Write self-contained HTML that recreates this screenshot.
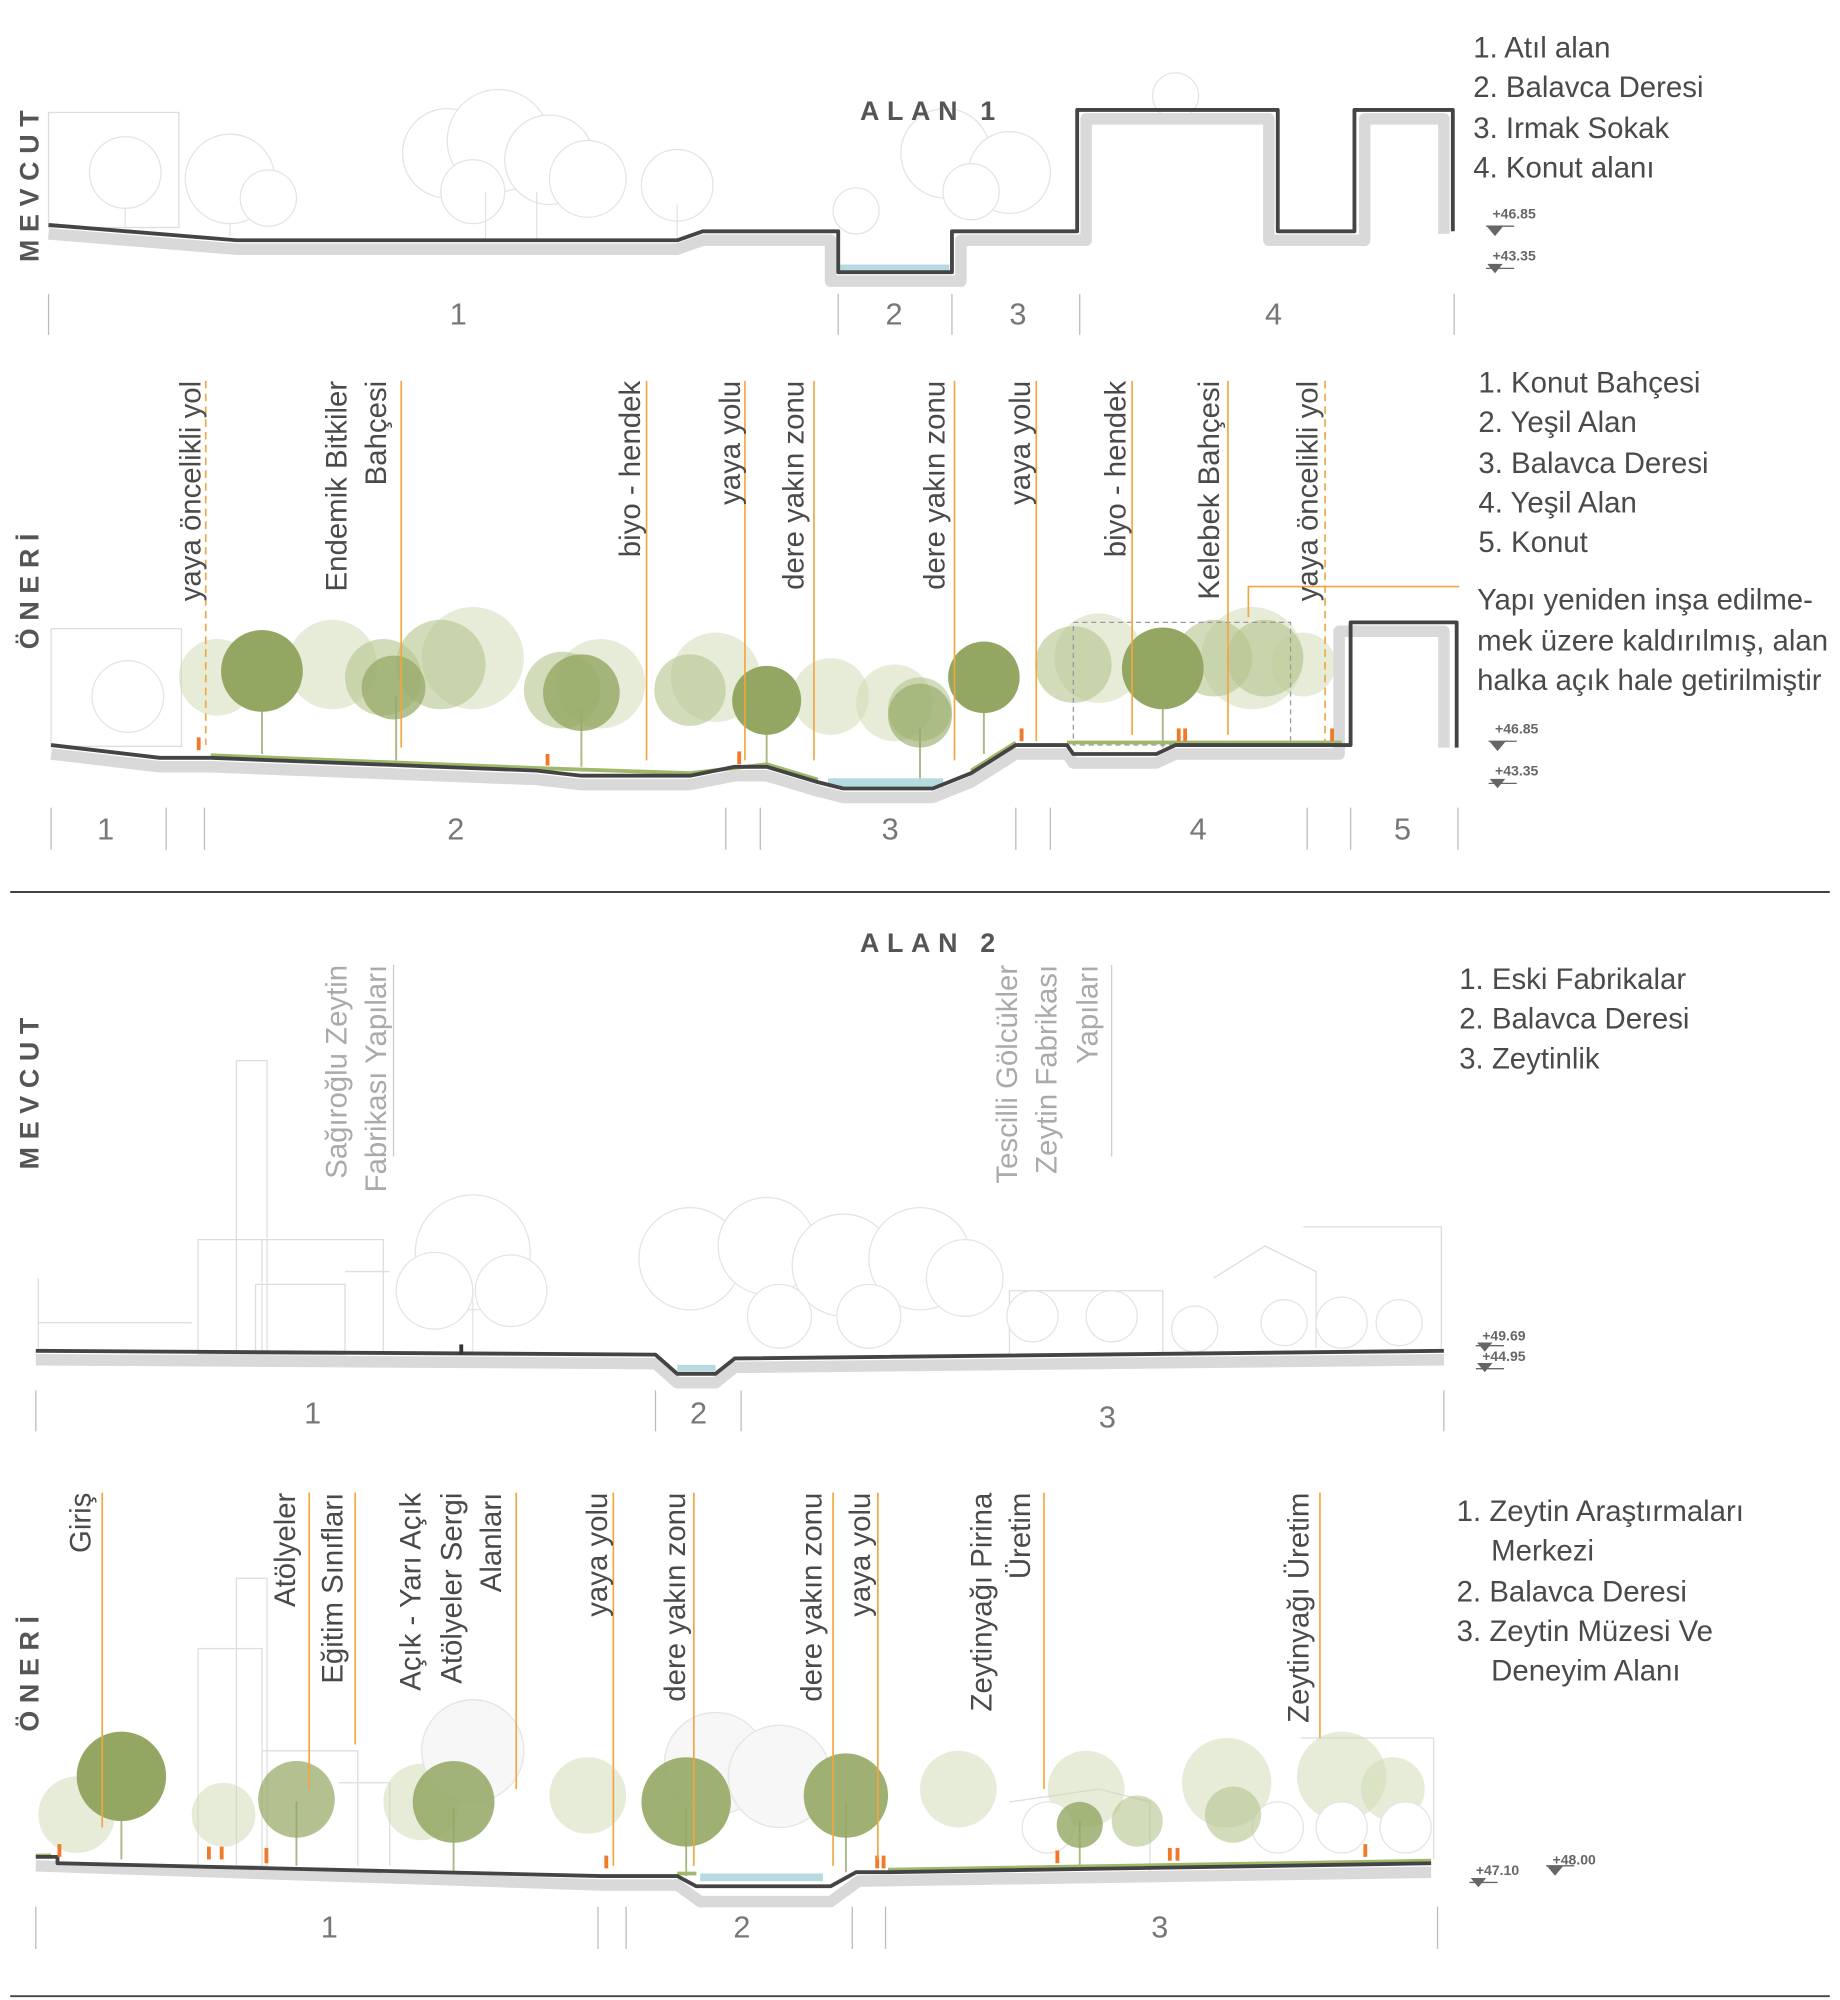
<!DOCTYPE html>
<html><head><meta charset="utf-8"><style>
html,body{margin:0;padding:0;background:#fff;}
svg{display:block;}
text{font-family:"Liberation Sans",sans-serif;}
.lg{font-size:23px;fill:#4a4a4a;}
.lb{font-size:23px;fill:#4a4a4a;}
.gl{font-size:23px;fill:#aaa;}
.nm{font-size:24px;fill:#777;}
.el{font-size:11px;fill:#666;font-weight:bold;}
.sec{font-size:21px;fill:#555;letter-spacing:6px;font-weight:bold;}
.ol{stroke:#f2a640;stroke-width:1.3;fill:none;}
.dv{stroke:#bbb;stroke-width:1;}
.gr{stroke:#d9d9d9;stroke-width:9;fill:none;stroke-linejoin:round;}
.gd{stroke:#444;stroke-width:3;fill:none;stroke-linejoin:round;}
.tg{fill:#fff;stroke:#e4e4e4;stroke-width:1;}
.tk{stroke:#e4e4e4;stroke-width:1;}
.g1{fill:#93a763;}
.g2{fill:#b4c48e;opacity:.6;}
.g3{fill:#cfdab2;opacity:.5;}
.gt{stroke:#a9b987;stroke-width:1.5;}
.bd{fill:none;stroke:#ddd;stroke-width:1;}
</style></head><body>
<svg width="1840" height="2000" viewBox="0 0 1440 1565" preserveAspectRatio="none" xmlns="http://www.w3.org/2000/svg">
<!-- ================= SECTION 1 MEVCUT ================= -->
<text class="sec" transform="translate(30,205) rotate(-90)">MEVCUT</text>
<rect x="38" y="88" width="102" height="90" class="bd"/>
<g>
<line class="tk" x1="98" y1="120" x2="98" y2="178"/><circle class="tg" cx="98" cy="135" r="28"/>
<line class="tk" x1="180" y1="120" x2="180" y2="185"/><circle class="tg" cx="180" cy="140" r="35"/>
<circle class="tg" cx="210" cy="155" r="22"/>
<circle class="tg" cx="350" cy="120" r="35"/><circle class="tg" cx="390" cy="110" r="40"/><circle class="tg" cx="430" cy="125" r="35"/>
<circle class="tg" cx="460" cy="140" r="30"/><circle class="tg" cx="370" cy="150" r="25"/>
<line class="tk" x1="380" y1="150" x2="380" y2="188"/><line class="tk" x1="420" y1="150" x2="420" y2="188"/>
<circle class="tg" cx="530" cy="145" r="28"/><line class="tk" x1="530" y1="160" x2="530" y2="188"/>
<circle class="tg" cx="670" cy="165" r="18"/>
<circle class="tg" cx="740" cy="120" r="35"/><circle class="tg" cx="790" cy="135" r="32"/><circle class="tg" cx="760" cy="150" r="22"/>
<circle class="tg" cx="920" cy="75" r="18"/>
</g>
<text class="sec" x="673" y="94">ALAN 1</text>
<rect x="657" y="207" width="86" height="6" fill="#b5dbe0"/>
<path class="gr" d="M38,183 L185,195 L530,195 L550,188 L650,188 L650,220 L752,220 L752,188 L850,188 L850,93 L993,93 L993,188 L1068,188 L1068,93 L1130,93 L1130,183"/>
<path class="gd" d="M38,176 L185,188 L530,188 L550,181 L656,181 L656,213 L745,213 L745,181 L843,181 L843,86 L1000,86 L1000,181 L1060,181 L1060,86 L1137,86 L1137,181"/>
<g class="dv"><line x1="38" y1="230" x2="38" y2="262"/><line x1="656" y1="230" x2="656" y2="262"/><line x1="745" y1="230" x2="745" y2="262"/><line x1="845" y1="230" x2="845" y2="262"/><line x1="1138" y1="230" x2="1138" y2="262"/></g>
<text class="nm" x="352" y="254">1</text><text class="nm" x="693" y="254">2</text><text class="nm" x="790" y="254">3</text><text class="nm" x="990" y="254">4</text>
<text class="lg" x="1153" y="45">1. Atıl alan</text>
<text class="lg" x="1153" y="76">2. Balavca Deresi</text>
<text class="lg" x="1153" y="108">3. Irmak Sokak</text>
<text class="lg" x="1153" y="139">4. Konut alanı</text>
<text class="el" x="1168" y="171">+46.85</text><path d="M1163,177 h22 M1165,178 l5,6 l5,-6z" stroke="#666" fill="#666" stroke-width="1"/>
<text class="el" x="1168" y="204">+43.35</text><path d="M1163,210 h22 M1165,207 l5,6 l5,-6z" stroke="#666" fill="#666" stroke-width="1"/>

<!-- ================= SECTION 2 ONERI ================= -->
<text class="sec" transform="translate(30,508) rotate(-90)">ÖNERİ</text>
<rect x="40" y="492" width="102" height="92" class="bd"/>
<circle class="tg" cx="100" cy="545" r="28"/>
<g>
<circle class="g3" cx="170" cy="530" r="30"/><circle class="g3" cx="260" cy="520" r="35"/><circle class="g3" cx="370" cy="515" r="40"/>
<circle class="g3" cx="470" cy="535" r="35"/><circle class="g3" cx="560" cy="530" r="35"/><circle class="g3" cx="650" cy="545" r="30"/>
<circle class="g3" cx="700" cy="550" r="30"/><circle class="g3" cx="860" cy="515" r="35"/><circle class="g3" cx="980" cy="515" r="40"/>
<circle class="g3" cx="1020" cy="520" r="25"/>
<circle class="g2" cx="300" cy="530" r="30"/><circle class="g2" cx="345" cy="520" r="35"/><circle class="g2" cx="440" cy="540" r="30"/>
<circle class="g2" cx="540" cy="540" r="28"/><circle class="g2" cx="720" cy="555" r="25"/><circle class="g2" cx="840" cy="520" r="30"/>
<circle class="g2" cx="950" cy="515" r="30"/><circle class="g2" cx="990" cy="515" r="30"/>
<line class="gt" x1="205" y1="540" x2="205" y2="590"/><circle class="g1" cx="205" cy="525" r="32"/>
<line class="gt" x1="310" y1="545" x2="310" y2="595"/><circle class="g1" cx="308" cy="538" r="25" opacity=".7"/>
<line class="gt" x1="455" y1="555" x2="455" y2="600"/><circle class="g1" cx="455" cy="542" r="30" opacity=".8"/>
<line class="gt" x1="600" y1="560" x2="600" y2="600"/><circle class="g1" cx="600" cy="548" r="27"/>
<line class="gt" x1="720" y1="570" x2="720" y2="610"/><circle class="g1" cx="720" cy="560" r="25" opacity=".6"/>
<line class="gt" x1="770" y1="545" x2="770" y2="590"/><circle class="g1" cx="770" cy="530" r="28"/>
<line class="gt" x1="910" y1="535" x2="910" y2="585"/><circle class="g1" cx="910" cy="523" r="32"/>
</g>
<rect x="840" y="487" width="170" height="96" fill="none" stroke="#999" stroke-dasharray="4,3"/>
<rect x="648" y="609" width="90" height="7" fill="#b5dbe0"/>
<path class="gr" d="M40,590 L125,600 L165,600 L420,610 L455,614 L540,614 L575,607 L600,607 L640,619 L660,624 L730,624 L760,612 L795,590 L835,590 L840,597 L905,597 L920,590 L1048,590 L1048,494 L1130,494 L1130,585"/>
<path d="M165,591 L420,601 L540,605 L600,598 L640,610 M760,603 L795,581 M835,581 L1050,581" stroke="#9fb86a" stroke-width="3" fill="none"/>
<path class="gd" d="M40,583 L125,593 L165,593 L420,603 L455,607 L540,607 L575,600 L600,600 L640,612 L660,617 L730,617 L760,605 L795,583 L835,583 L840,590 L905,590 L920,583 L1057,583 L1057,487 L1140,487 L1140,585"/>
<g fill="#f07a2a"><rect x="154" y="577" width="3" height="10"/><rect x="577" y="588" width="3" height="10"/><rect x="798" y="570" width="3" height="10"/><rect x="921" y="570" width="3" height="10"/><rect x="926" y="570" width="3" height="10"/><rect x="1041" y="570" width="3" height="10"/><rect x="427" y="590" width="3" height="9"/></g>
<g class="ol">
<line x1="161" y1="298" x2="161" y2="583" stroke-dasharray="6,4"/>
<line x1="314" y1="298" x2="314" y2="585"/>
<line x1="506" y1="298" x2="506" y2="595"/>
<line x1="583" y1="298" x2="583" y2="595"/>
<line x1="637" y1="298" x2="637" y2="595"/>
<line x1="747" y1="298" x2="747" y2="595"/>
<line x1="811" y1="298" x2="811" y2="580"/>
<line x1="886" y1="298" x2="886" y2="575"/>
<line x1="961" y1="298" x2="961" y2="575"/>
<line x1="1037" y1="298" x2="1037" y2="580" stroke-dasharray="6,4"/>
<polyline points="977,483 977,459 1142,459"/>
</g>
<g class="lb" text-anchor="end">
<text transform="translate(157,298) rotate(-90)">yaya öncelikli yol</text>
<text transform="translate(271,298) rotate(-90)">Endemik Bitkiler</text>
<text transform="translate(302,298) rotate(-90)">Bahçesi</text>
<text transform="translate(501,298) rotate(-90)">biyo - hendek</text>
<text transform="translate(579,298) rotate(-90)">yaya yolu</text>
<text transform="translate(629,298) rotate(-90)">dere yakın zonu</text>
<text transform="translate(739,298) rotate(-90)">dere yakın zonu</text>
<text transform="translate(806,298) rotate(-90)">yaya yolu</text>
<text transform="translate(881,298) rotate(-90)">biyo - hendek</text>
<text transform="translate(954,298) rotate(-90)">Kelebek Bahçesi</text>
<text transform="translate(1031,298) rotate(-90)">yaya öncelikli yol</text>
</g>
<g class="dv"><line x1="40" y1="632" x2="40" y2="665"/><line x1="130" y1="632" x2="130" y2="665"/><line x1="160" y1="632" x2="160" y2="665"/><line x1="568" y1="632" x2="568" y2="665"/><line x1="595" y1="632" x2="595" y2="665"/><line x1="795" y1="632" x2="795" y2="665"/><line x1="822" y1="632" x2="822" y2="665"/><line x1="1023" y1="632" x2="1023" y2="665"/><line x1="1057" y1="632" x2="1057" y2="665"/><line x1="1141" y1="632" x2="1141" y2="665"/></g>
<text class="nm" x="76" y="657">1</text><text class="nm" x="350" y="657">2</text><text class="nm" x="690" y="657">3</text><text class="nm" x="931" y="657">4</text><text class="nm" x="1091" y="657">5</text>
<text class="lg" x="1157" y="307">1. Konut Bahçesi</text>
<text class="lg" x="1157" y="338">2. Yeşil Alan</text>
<text class="lg" x="1157" y="370">3. Balavca Deresi</text>
<text class="lg" x="1157" y="401">4. Yeşil Alan</text>
<text class="lg" x="1157" y="432">5. Konut</text>
<text class="lg" x="1156" y="477">Yapı yeniden inşa edilme-</text>
<text class="lg" x="1156" y="509">mek üzere kaldırılmış, alan</text>
<text class="lg" x="1156" y="540">halka açık hale getirilmiştir</text>
<text class="el" x="1170" y="574">+46.85</text><path d="M1165,580 h22 M1167,581 l5,6 l5,-6z" stroke="#666" fill="#666" stroke-width="1"/>
<text class="el" x="1170" y="607">+43.35</text><path d="M1165,613 h22 M1167,610 l5,6 l5,-6z" stroke="#666" fill="#666" stroke-width="1"/>
<line x1="8" y1="698" x2="1432" y2="698" stroke="#444" stroke-width="1.5"/>

<!-- ================= SECTION 3 MEVCUT ================= -->
<text class="sec" transform="translate(30,915) rotate(-90)">MEVCUT</text>
<g class="bd">
<rect x="185" y="830" width="24" height="230"/><rect x="155" y="970" width="50" height="90"/><rect x="200" y="1005" width="70" height="55"/><path d="M205,970 L300,970 L300,1060 M270,995 L305,995"/>
<path d="M30,1035 L150,1035 M30,1000 L30,1055"/>
<rect x="790" y="1010" width="120" height="50"/><path d="M950,1000 L990,975 L1030,995 L1030,1055 M1020,960 L1128,960 L1128,1055"/>
</g>
<g>
<circle class="tg" cx="370" cy="980" r="45"/><circle class="tg" cx="340" cy="1010" r="30"/><circle class="tg" cx="400" cy="1010" r="28"/>
<line class="tk" x1="370" y1="1010" x2="370" y2="1058"/>
<circle class="tg" cx="540" cy="985" r="40"/><circle class="tg" cx="600" cy="975" r="38"/><circle class="tg" cx="660" cy="990" r="40"/>
<circle class="tg" cx="720" cy="985" r="40"/><circle class="tg" cx="755" cy="1000" r="30"/><circle class="tg" cx="610" cy="1030" r="25"/>
<circle class="tg" cx="680" cy="1030" r="25"/>
<circle class="tg" cx="808" cy="1030" r="20"/><circle class="tg" cx="870" cy="1030" r="20"/><circle class="tg" cx="935" cy="1040" r="18"/>
<circle class="tg" cx="1005" cy="1035" r="18"/><circle class="tg" cx="1050" cy="1035" r="20"/><circle class="tg" cx="1095" cy="1035" r="18"/>
</g>
<text class="sec" x="673" y="745">ALAN 2</text>
<rect x="530" y="1068" width="30" height="5" fill="#b5dbe0"/>
<path class="gr" d="M28,1064 L513,1067 L530,1082 L560,1082 L575,1070 L1130,1064"/>
<path class="gd" d="M28,1057 L513,1060 L530,1075 L560,1075 L575,1063 L1130,1057"/>
<line x1="361" y1="1052" x2="361" y2="1060" stroke="#333" stroke-width="3"/>
<line x1="308" y1="755" x2="308" y2="905" stroke="#ccc"/><line x1="870" y1="755" x2="870" y2="905" stroke="#ccc"/>
<g class="gl" text-anchor="end">
<text transform="translate(271,755) rotate(-90)">Sağıroğlu Zeytin</text>
<text transform="translate(302,755) rotate(-90)">Fabrikası Yapıları</text>
<text transform="translate(796,755) rotate(-90)">Tescilli Gölcükler</text>
<text transform="translate(827,755) rotate(-90)">Zeytin Fabrikası</text>
<text transform="translate(859,755) rotate(-90)">Yapıları</text>
</g>
<g class="dv"><line x1="28" y1="1088" x2="28" y2="1120"/><line x1="513" y1="1088" x2="513" y2="1120"/><line x1="580" y1="1088" x2="580" y2="1120"/><line x1="1130" y1="1088" x2="1130" y2="1120"/></g>
<text class="nm" x="238" y="1114">1</text><text class="nm" x="540" y="1114">2</text><text class="nm" x="860" y="1117">3</text>
<text class="lg" x="1142" y="774">1. Eski Fabrikalar</text>
<text class="lg" x="1142" y="805">2. Balavca Deresi</text>
<text class="lg" x="1142" y="836">3. Zeytinlik</text>
<text class="el" x="1160" y="1049">+49.69</text><path d="M1155,1053 h22 M1157,1051 l5,6 l5,-6z" stroke="#666" fill="#666" stroke-width="1"/>
<text class="el" x="1160" y="1065">+44.95</text><path d="M1155,1071 h22 M1157,1067 l5,6 l5,-6z" stroke="#666" fill="#666" stroke-width="1"/>

<!-- ================= SECTION 4 ONERI ================= -->
<text class="sec" transform="translate(30,1355) rotate(-90)">ÖNERİ</text>
<g class="bd">
<rect x="185" y="1235" width="24" height="225"/><rect x="155" y="1290" width="50" height="170"/><path d="M205,1370 L280,1370 L280,1460 M265,1395 L305,1395 L305,1460"/>
<path d="M790,1410 L860,1400 L900,1410 L900,1465 M1018,1360 L1122,1360 L1122,1455"/>
</g>
<g>
<circle class="g3" cx="60" cy="1420" r="30"/><circle class="g3" cx="175" cy="1420" r="25"/><circle class="g3" cx="330" cy="1410" r="30"/>
<circle class="tg" cx="370" cy="1370" r="40" style="fill:#f7f7f7"/><circle class="tg" cx="560" cy="1380" r="40" style="fill:#f7f7f7"/><circle class="tg" cx="610" cy="1390" r="40" style="fill:#f7f7f7"/>
<circle class="g3" cx="460" cy="1405" r="30"/><circle class="g3" cx="750" cy="1400" r="30"/><circle class="g3" cx="850" cy="1400" r="30"/>
<circle class="g3" cx="960" cy="1395" r="35"/><circle class="g3" cx="1050" cy="1390" r="35"/><circle class="g3" cx="1090" cy="1400" r="25"/>
<circle class="tg" cx="820" cy="1430" r="20"/><circle class="tg" cx="1000" cy="1430" r="20"/><circle class="tg" cx="1050" cy="1430" r="20"/><circle class="tg" cx="1100" cy="1430" r="20"/>
<circle class="g2" cx="890" cy="1425" r="20"/><circle class="g2" cx="965" cy="1420" r="22"/>
<line class="gt" x1="95" y1="1400" x2="95" y2="1455"/><circle class="g1" cx="95" cy="1390" r="35"/>
<line class="gt" x1="232" y1="1410" x2="232" y2="1460"/><circle class="g1" cx="232" cy="1408" r="30" opacity=".7"/>
<line class="gt" x1="355" y1="1415" x2="355" y2="1465"/><circle class="g1" cx="355" cy="1410" r="32" opacity=".85"/>
<line class="gt" x1="537" y1="1415" x2="537" y2="1468"/><circle class="g1" cx="537" cy="1410" r="35" opacity=".9"/>
<line class="gt" x1="662" y1="1410" x2="662" y2="1465"/><circle class="g1" cx="662" cy="1405" r="33" opacity=".9"/>
<line class="gt" x1="845" y1="1425" x2="845" y2="1462"/><circle class="g1" cx="845" cy="1428" r="18" opacity=".8"/>
</g>
<rect x="548" y="1466" width="96" height="6" fill="#b5dbe0"/>
<path class="gr" d="M28,1460 L470,1475 L530,1475 L548,1488 L650,1488 L672,1472 L1120,1465"/>
<path d="M28,1452 L40,1452 M530,1466 L545,1466 M695,1463 L1120,1456" stroke="#9fb86a" stroke-width="3" fill="none"/>
<path class="gd" d="M28,1453 L45,1453 L45,1458 L470,1468 L530,1468 L545,1476 L650,1476 L670,1465 L695,1465 L1120,1458"/>
<g fill="#f07a2a"><rect x="45" y="1443" width="3" height="10"/><rect x="162" y="1445" width="3" height="10"/><rect x="172" y="1445" width="3" height="10"/><rect x="207" y="1446" width="3" height="12"/><rect x="473" y="1452" width="3" height="10"/><rect x="685" y="1452" width="3" height="10"/><rect x="690" y="1452" width="3" height="10"/><rect x="826" y="1448" width="3" height="10"/><rect x="914" y="1446" width="3" height="10"/><rect x="920" y="1446" width="3" height="10"/><rect x="1067" y="1443" width="3" height="10"/></g>
<g class="ol">
<line x1="80" y1="1168" x2="80" y2="1430"/>
<line x1="242" y1="1168" x2="242" y2="1400"/>
<line x1="278" y1="1168" x2="278" y2="1365"/>
<line x1="404" y1="1168" x2="404" y2="1400"/>
<line x1="480" y1="1168" x2="480" y2="1460"/>
<line x1="543" y1="1168" x2="543" y2="1460"/>
<line x1="652" y1="1168" x2="652" y2="1460"/>
<line x1="687" y1="1168" x2="687" y2="1455"/>
<line x1="817" y1="1168" x2="817" y2="1400"/>
<line x1="1033" y1="1168" x2="1033" y2="1360"/>
</g>
<g class="lb" text-anchor="end">
<text transform="translate(71,1168) rotate(-90)">Giriş</text>
<text transform="translate(231,1168) rotate(-90)">Atölyeler</text>
<text transform="translate(268,1168) rotate(-90)">Eğitim Sınıfları</text>
<text transform="translate(329,1168) rotate(-90)">Açık - Yarı Açık</text>
<text transform="translate(361,1168) rotate(-90)">Atölyeler Sergi</text>
<text transform="translate(392,1168) rotate(-90)">Alanları</text>
<text transform="translate(475,1168) rotate(-90)">yaya yolu</text>
<text transform="translate(536,1168) rotate(-90)">dere yakın zonu</text>
<text transform="translate(643,1168) rotate(-90)">dere yakın zonu</text>
<text transform="translate(681,1168) rotate(-90)">yaya yolu</text>
<text transform="translate(776,1168) rotate(-90)">Zeytinyağı Pirina</text>
<text transform="translate(806,1168) rotate(-90)">Üretim</text>
<text transform="translate(1024,1168) rotate(-90)">Zeytinyağı Üretim</text>
</g>
<g class="dv"><line x1="28" y1="1492" x2="28" y2="1525"/><line x1="468" y1="1492" x2="468" y2="1525"/><line x1="490" y1="1492" x2="490" y2="1525"/><line x1="667" y1="1492" x2="667" y2="1525"/><line x1="693" y1="1492" x2="693" y2="1525"/><line x1="1125" y1="1492" x2="1125" y2="1525"/></g>
<text class="nm" x="251" y="1516">1</text><text class="nm" x="574" y="1516">2</text><text class="nm" x="901" y="1516">3</text>
<text class="lg" x="1140" y="1190">1. Zeytin Araştırmaları</text>
<text class="lg" x="1167" y="1221">Merkezi</text>
<text class="lg" x="1140" y="1253">2. Balavca Deresi</text>
<text class="lg" x="1140" y="1284">3. Zeytin Müzesi Ve</text>
<text class="lg" x="1167" y="1315">Deneyim Alanı</text>
<text class="el" x="1155" y="1467">+47.10</text><path d="M1150,1473 h22 M1152,1470 l5,6 l5,-6z" stroke="#666" fill="#666" stroke-width="1"/>
<text class="el" x="1215" y="1459">+48.00</text><path d="M1210,1460 h22 M1212,1461 l5,6 l5,-6z" stroke="#666" fill="#666" stroke-width="1"/>
<line x1="8" y1="1562" x2="1432" y2="1562" stroke="#444" stroke-width="1.5"/>
</svg>
</body></html>
